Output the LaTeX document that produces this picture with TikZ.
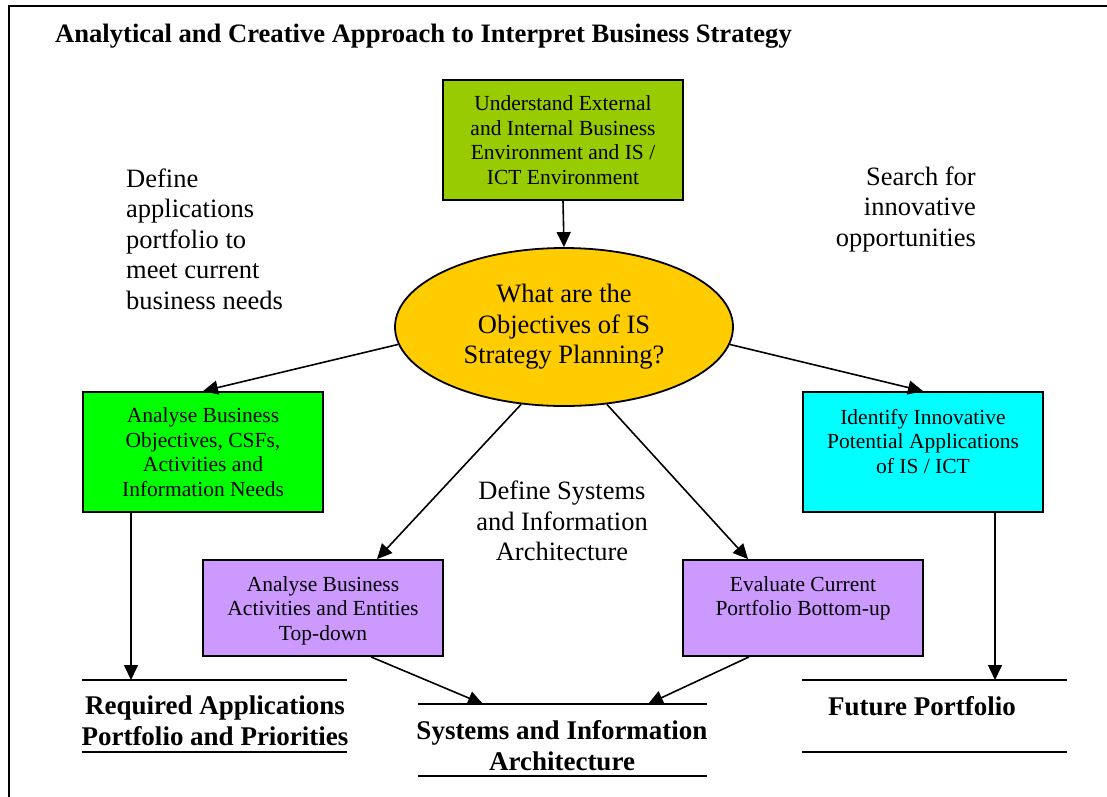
\documentclass[tikz,border=0pt]{standalone}
\usepackage{fontspec}
\setmainfont{Liberation Serif}
\usetikzlibrary{arrows.meta,shapes.geometric}
\definecolor{limeg}{HTML}{99CC00}
\definecolor{brightg}{HTML}{00FF00}
\definecolor{cyanb}{HTML}{00FFFF}
\definecolor{purp}{HTML}{CC99FF}
\definecolor{gold}{HTML}{FFCC00}
\begin{document}
\begin{tikzpicture}[x=1pt,y=-1pt,
  box/.style={draw, line width=1.8pt, minimum width=240pt, minimum height=120pt, inner sep=0pt, align=center, font=\fontsize{21.5}{24.5}\selectfont},
  boxtext/.style={inner sep=0pt, align=center, font=\fontsize{21.5}{24.5}\selectfont},
  pbox/.style={box, fill=purp, minimum height=96pt},
  ell/.style={ellipse, draw, line width=1.8pt, fill=gold, minimum width=338pt, minimum height=158pt, inner sep=0pt, align=center, font=\fontsize{26.5}{30.5}\selectfont},
  lbl/.style={inner sep=0pt, font=\fontsize{26.5}{30.5}\selectfont},
  blbl/.style={inner sep=0pt, align=center, font=\fontsize{27}{31}\selectfont\bfseries},
  arr/.style={line width=1.6pt, -{Triangle[length=15pt,width=14pt]}},
  rule/.style={line width=2pt}]
\useasboundingbox (0,0) rectangle (1107,796);
\draw[line width=2pt] (9,800) -- (9,6) -- (1110,6);
\node[anchor=west, inner sep=0pt, font=\fontsize{26.6}{30}\selectfont\bfseries] (title) at (55,36) {Analytical and Creative Approach to Interpret Business Strategy};

\node[box, fill=limeg] (env) at (563,140) {Understand External\\and Internal Business\\Environment and IS /\\ICT Environment};
\node[ell] (obj) at (564,327) {What are the\\Objectives of IS\\Strategy Planning?};
\node[box, fill=brightg] (abo) at (203,452) {Analyse Business\\Objectives, CSFs,\\Activities and\\Information Needs};
\node[box, fill=cyanb] (iip) at (923,452) {};
\node[boxtext] (iipt) at (923,441.5) {Identify Innovative\\Potential Applications\\of IS / ICT};
\node[pbox] (aba) at (323,608) {};
\node[boxtext] (abat) at (323,610.5) {Analyse Business\\Activities and Entities\\Top-down};
\node[pbox] (ecp) at (803,608) {};
\node[boxtext] (ecpt) at (803,598.5) {Evaluate Current\\Portfolio Bottom-up};

\node[lbl, anchor=west, align=left] (dap) at (126,239) {Define\\applications\\portfolio to\\meet current\\business needs};
\node[lbl, anchor=east, align=right] (sio) at (976,209) {Search for\\innovative\\opportunities};
\node[lbl, align=center] (dsi) at (562,521) {Define Systems\\and Information\\Architecture};

\node[blbl] (rap) at (215,721) {Required Applications\\Portfolio and Priorities};
\node[blbl] (sia) at (562,746) {Systems and Information\\Architecture};
\node[blbl] (fp) at (922,706) {Future Portfolio};

\draw[rule] (82,680) -- (347,680);
\draw[rule] (82,752) -- (347,752);
\draw[rule] (418,704) -- (707,704);
\draw[rule] (418,776) -- (707,776);
\draw[rule] (802,680) -- (1067,680);
\draw[rule] (802,752) -- (1067,752);

\coordinate (rapin) at (131,680);
\coordinate (siainl) at (483,704);
\coordinate (siainr) at (648,704);
\coordinate (fpin) at (995,680);

\draw[arr] (env.south) -- (obj.north);
\draw[arr] (obj.186) -- (abo.north);
\draw[arr] (obj.354) -- (iip.north);
\draw[arr] (obj.241) -- ([xshift=54pt]aba.north);
\draw[arr] (obj.299) -- ([xshift=-55pt]ecp.north);
\draw[arr] ([xshift=-72pt]abo.south) -- (rapin);
\draw[arr] ([xshift=72pt]iip.south) -- (fpin);
\draw[arr] ([xshift=48pt]aba.south) -- (siainl);
\draw[arr] ([xshift=-54pt]ecp.south) -- (siainr);
\end{tikzpicture}
\end{document}
